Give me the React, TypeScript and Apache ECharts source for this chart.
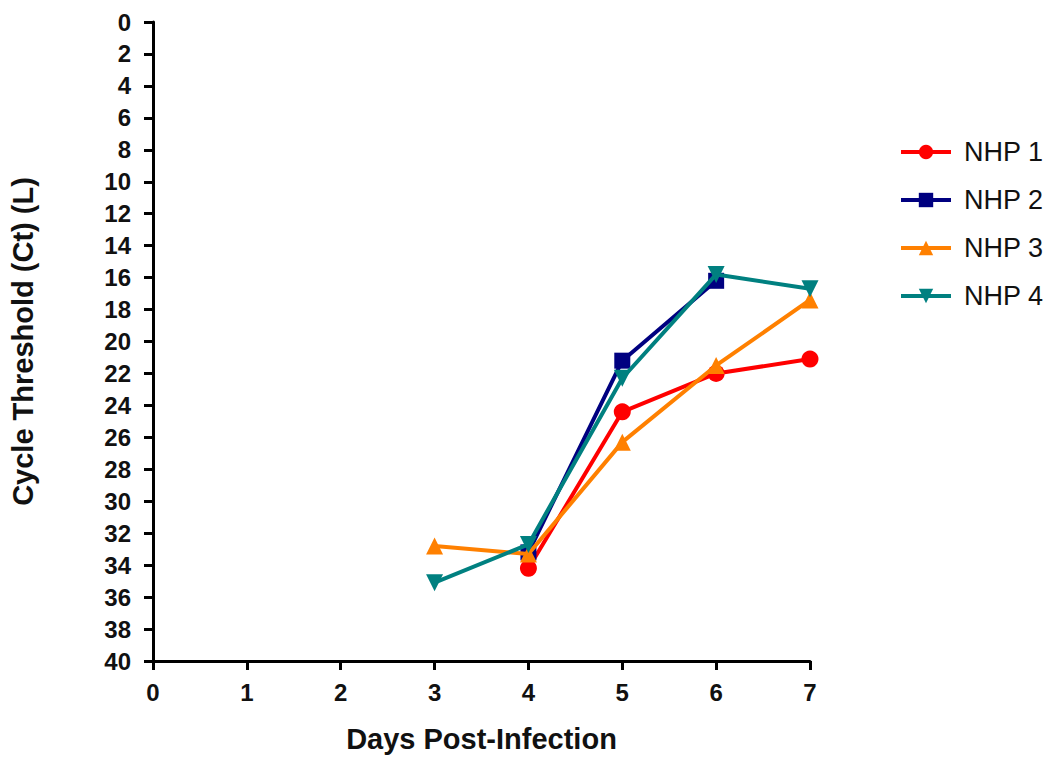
import React, { useEffect, useRef } from "react";
import * as echarts from "echarts";

const days = [3, 4, 5, 6, 7];
const seriesNames = ["NHP 1", "NHP 2", "NHP 3", "NHP 4"];
const nhp1: (number | null)[] = [null, 34.2, 24.4, 22.0, 21.1];
const nhp2: (number | null)[] = [null, 33.2, 21.2, 16.2, null];
const nhp3: (number | null)[] = [32.8, 33.3, 26.3, 21.5, 17.4];
const nhp4: (number | null)[] = [35.1, 32.7, 22.3, 15.8, 16.7];
const colors = ["#ff0000", "#000080", "#ff8000", "#008080"];
const symbols = ["circle", "rect", "triangle", "triangle"];
const rotations = [0, 0, 0, 180];

export default function App() {
  const ref = useRef<HTMLDivElement>(null);
  useEffect(() => {
    document.body.style.margin = "0";
    const chart = echarts.init(ref.current!, null, { renderer: "svg" });
    const all = [nhp1, nhp2, nhp3, nhp4];
    const font = "Liberation Sans, Arial, sans-serif";
    chart.setOption({
      animation: false,
      textStyle: { fontFamily: font },
      grid: { left: 148, right: 246, top: 22, bottom: 91 },
      legend: {
        orient: "vertical",
        left: 894,
        top: 133,
        itemWidth: 50,
        itemHeight: 18,
        itemGap: 20,
        lineStyle: { width: 4 },
        textStyle: { fontSize: 27, color: "#111", fontFamily: font, lineHeight: 28, padding: [0, 0, 0, 8] },
        data: seriesNames,
      },
      xAxis: {
        type: "value",
        min: 0,
        max: 7,
        interval: 1,
        name: "Days Post-Infection",
        nameLocation: "middle",
        nameGap: 63,
        nameMoveOverlap: false,
        nameTextStyle: { fontSize: 29, fontWeight: "bold", color: "#111", fontFamily: font },
        axisLine: { show: true, onZero: false, lineStyle: { color: "#000", width: 3 } },
        axisTick: { show: true, length: 9, lineStyle: { color: "#000", width: 3 } },
        axisLabel: { fontSize: 24, fontWeight: "bold", color: "#111", margin: 19, fontFamily: font },
        splitLine: { show: false },
      },
      yAxis: {
        type: "value",
        inverse: true,
        min: 0,
        max: 40,
        interval: 2,
        name: "Cycle Threshold (Ct) (L)",
        nameLocation: "middle",
        nameGap: 116,
        nameMoveOverlap: false,
        nameTextStyle: { fontSize: 29, fontWeight: "bold", color: "#111", fontFamily: font },
        axisLine: { show: true, onZero: false, lineStyle: { color: "#000", width: 3 } },
        axisTick: { show: true, length: 9, lineStyle: { color: "#000", width: 3 } },
        axisLabel: { fontSize: 24, fontWeight: "bold", color: "#111", margin: 22, fontFamily: font },
        splitLine: { show: false },
      },
      series: all.map((vals, i) => ({
        name: seriesNames[i],
        type: "line",
        data: days.map((d, j) => (vals[j] == null ? null : [d, vals[j]])).filter((p) => p !== null),
        color: colors[i],
        symbol: symbols[i],
        symbolRotate: rotations[i],
        symbolSize: i === 1 ? 16 : 17,
        lineStyle: { width: 4, color: colors[i] },
        itemStyle: { color: colors[i] },
        z: 2 + i,
      })),
    });
    return () => chart.dispose();
  }, []);
  return <div ref={ref} style={{ width: 1056, height: 758 }} />;
}
